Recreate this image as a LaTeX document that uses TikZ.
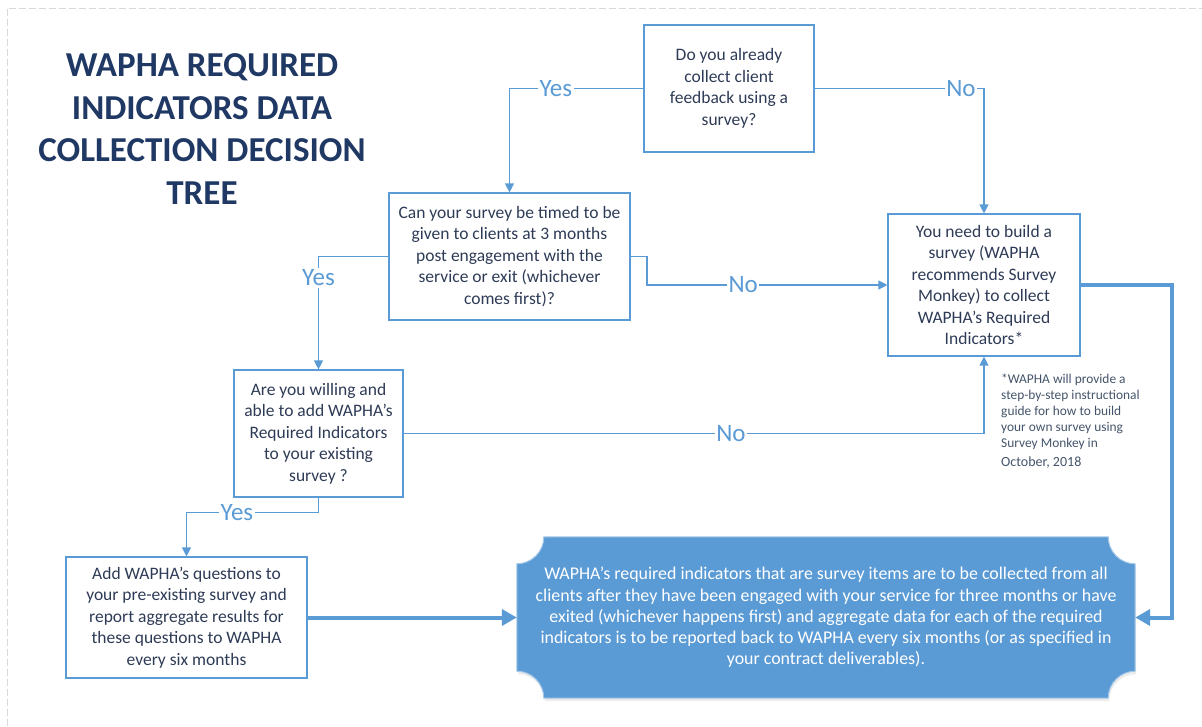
\documentclass[tikz,border=0pt]{standalone}
\usepackage{fontspec}
\setmainfont{Carlito}
\usepackage{tikz}
\usetikzlibrary{arrows.meta,positioning,backgrounds,shadows}
\tikzset{>={Triangle[length=9pt,width=9pt]}}

\definecolor{wablue}{HTML}{5B9BD5}
\definecolor{wanavy}{HTML}{1F3864}
\definecolor{watext}{HTML}{2E3B56}
\definecolor{wanote}{HTML}{44546A}
\definecolor{waframe}{HTML}{D9D9D9}

\newcommand{\plaquepath}[1]{([xshift=27pt]#1.north west) -- ([xshift=-27pt]#1.north east)
	arc[start angle=180, end angle=270, radius=27pt] -- ([yshift=27pt]#1.south east)
	arc[start angle=90, end angle=180, radius=27pt] -- ([xshift=27pt]#1.south west)
	arc[start angle=0, end angle=90, radius=27pt] -- ([yshift=-27pt]#1.north west)
	arc[start angle=270, end angle=360, radius=27pt] -- cycle}

\begin{document}
\begin{tikzpicture}[question/.style={rectangle, draw=wablue, line width=1.2pt, text=watext, align=center, inner sep=0pt, font=\fontsize{17.5}{21.5}\selectfont},
	answer/.style={fill=white, text=wablue, inner sep=1.5pt, font=\fontsize{25}{25}\selectfont},
	heading/.style={text=wanavy, align=center, font=\bfseries\fontsize{35}{42.5}\selectfont},
	outcome/.style={text=white, align=center, minimum width=618pt, minimum height=161pt, inner sep=0pt, font=\fontsize{17.9}{21.2}\selectfont},
	note/.style={text=wanote, align=left, inner sep=0pt, font=\fontsize{13.4}{16}\selectfont},
	link/.style={->, draw=wablue, line width=1.3pt},
	bold link/.style={->, >={Triangle[length=15pt,width=16pt]}, draw=wablue, line width=4pt},
	on grid]
	\useasboundingbox (0,0) rectangle (1202pt,-726pt);
	\draw[waframe, line width=1pt, dash pattern=on 7pt off 3pt] (7pt,-8.5pt) rectangle (1215pt,-740pt);
	\node[heading] (title) at (202pt,-129pt) {WAPHA REQUIRED\\INDICATORS DATA\\COLLECTION DECISION\\TREE};
	\node[question, minimum width=170pt, minimum height=127pt] (q1) at (729pt,-88.5pt) {Do you already\\collect client\\feedback using a\\survey?};
	\node[question, minimum width=241pt, minimum height=127pt] (q2) [below left=168pt and 219.5pt of q1] {Can your survey be timed to be\\given to clients at 3 months\\post engagement with the\\service or exit (whichever\\comes first)?};
	\node[question, minimum width=192pt, minimum height=142pt] (q3) [below right=196.5pt and 255pt of q1] {You need to build a\\survey (WAPHA\\recommends Survey\\Monkey) to collect\\WAPHA’s Required\\Indicators*};
	\node[question, minimum width=169pt, minimum height=127pt] (q4) [below left=177pt and 191pt of q2] {Are you willing and\\able to add WAPHA’s\\Required Indicators\\to your existing\\survey ?};
	\node[question, minimum width=241pt, minimum height=121pt] (q5) [below left=184pt and 132pt of q4] {Add WAPHA’s questions to\\your pre-existing survey and\\report aggregate results for\\these questions to WAPHA\\every six months};
	\node[outcome] (final) [right=639.5pt of q5] {WAPHA’s required indicators that are survey items are to be collected from all\\clients after they have been engaged with your service for three months or have\\exited (whichever happens first) and aggregate data for each of the required\\indicators is to be reported back to WAPHA every six months (or as specified in\\your contract deliverables).};
	\node[note, anchor=north west] (footnote) at (1001pt,-374pt) {*WAPHA will provide a\\step-by-step instructional\\guide for how to build\\your own survey using\\Survey Monkey in\\[3pt]{\fontsize{14}{16}\selectfont October, 2018}};
	\begin{scope}[on background layer]
		\fill[wablue, draw=wablue!55!white, line width=1pt, drop shadow={opacity=0.15, shadow xshift=1pt, shadow yshift=-3pt}] \plaquepath{final};
	\end{scope}
	\draw[link] (q1.west) -| node[answer, pos=0.327] {Yes} (q2.north);
	\draw[link] (q1.east) -| node[answer, pos=0.432] {No} (q3.north);
	\draw[link] (q2.east) -- ++(16.5pt,0) |- node[answer, pos=0.70] {No} (q3.west);
	\draw[link] (q2.west) -| node[answer, pos=0.595] {Yes} (q4.north);
	\draw[link] (q4.east) -| node[answer, pos=0.282] {No} (q3.south);
	\draw[link] (q4.south) -- ++(0,-15pt) -| node[answer, pos=0.309] {Yes} (q5.north);
	\draw[bold link] (q5.east) -- (final.west);
	\draw[bold link] (q3.east) -- ++(91pt,0) |- (final.east);
\end{tikzpicture}
\end{document}
